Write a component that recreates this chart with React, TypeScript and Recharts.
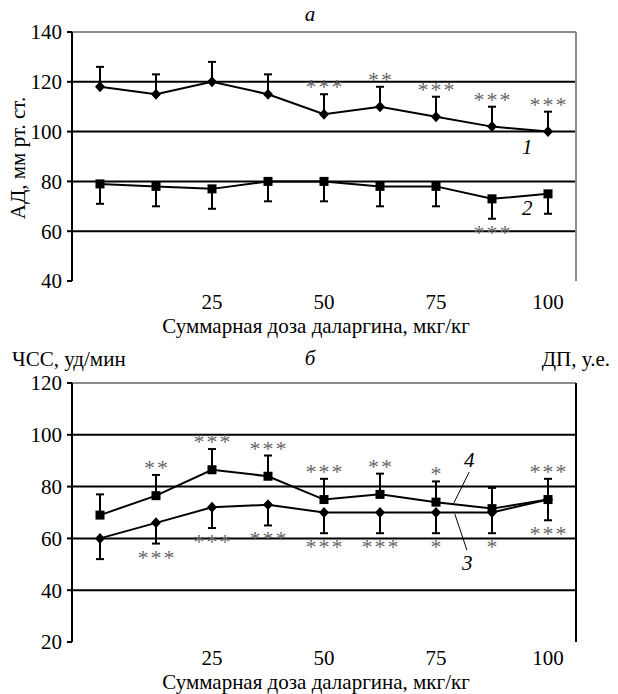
import React from "react";
import { LineChart, Line, XAxis, YAxis, ReferenceLine, ErrorBar } from "recharts";

const FONT = "'Liberation Serif', 'DejaVu Serif', 'Times New Roman', Times, serif";

// doses (mkg/kg), one point per step
const dose = [0, 12.5, 25, 37.5, 50, 62.5, 75, 87.5, 100];
const doseLabels = [25, 50, 75, 100];
const bandEdges = [-6.25, 6.25, 18.75, 31.25, 43.75, 56.25, 68.75, 81.25, 93.75, 106.25];

// а — АД
const sys = [118, 115, 120, 115, 107, 110, 106, 102, 100];
const sysErr = [8, 8, 8, 8, 8, 8, 8, 8, 8];
const sysSig = ["", "", "", "", "***", "**", "***", "***", "***"];
const dia = [79, 78, 77, 80, 80, 78, 78, 73, 75];
const diaErr = [8, 8, 8, 8, 8, 8, 8, 8, 8];
const diaSig = ["", "", "", "", "", "", "", "***", ""];
const adTicks = [40, 60, 80, 100, 120, 140];
const adGrid = [60, 80, 100, 120];

// б — ЧСС и ДП
const hr = [60, 66, 72, 73, 70, 70, 70, 70, 75];
const hrErr = [8, 8, 8, 8, 8, 8, 8, 8, 8];
const hrSig = ["", "***", "***", "***", "***", "***", "*", "*", "***"];
const dp = [69, 76.5, 86.5, 84, 75, 77, 74, 71.5, 75];
const dpErr = [8, 8, 8, 8, 8, 8, 8, 8, 8];
const dpSig = ["", "**", "***", "***", "***", "**", "*", "", "***"];
const hrTicks = [20, 40, 60, 80, 100, 120];
const hrGrid = [40, 60, 80, 100];

const dataA = dose.map((d, i) => ({
  dose: d,
  sys: sys[i],
  sysE: [0, sysErr[i]],
  sysHi: sys[i] + sysErr[i],
  sysSig: sysSig[i],
  dia: dia[i],
  diaE: [diaErr[i], 0],
  diaLo: dia[i] - diaErr[i],
  diaSig: diaSig[i],
}));

const dataB = dose.map((d, i) => ({
  dose: d,
  hr: hr[i],
  hrE: [hrErr[i], 0],
  hrLo: hr[i] - hrErr[i],
  hrSig: hrSig[i],
  dp: dp[i],
  dpE: [0, dpErr[i]],
  dpHi: dp[i] + dpErr[i],
  dpSig: dpSig[i],
}));

const tickStyle = { fill: "#000", fontSize: 21, fontFamily: FONT };

const diamond = (p: any) => {
  const { cx, cy, index } = p;
  if (cx == null || cy == null) return <g key={index} />;
  return (
    <polygon
      key={index}
      points={`${cx},${cy - 5.5} ${cx + 5},${cy} ${cx},${cy + 5.5} ${cx - 5},${cy}`}
      fill="#000"
    />
  );
};

const square = (p: any) => {
  const { cx, cy, index } = p;
  if (cx == null || cy == null) return <g key={index} />;
  return <rect key={index} x={cx - 4.5} y={cy - 4.5} width={9} height={9} fill="#000" />;
};

const stars = (key: string, below: boolean) => (p: any) => {
  const s = p.payload?.[key];
  if (!s || p.cx == null) return <g key={p.index} />;
  return (
    <text
      key={p.index}
      x={p.cx + 1}
      y={below ? p.cy + 21 : p.cy}
      textAnchor="middle"
      fill="#666"
      fontSize={22}
      fontFamily={FONT}
      letterSpacing={2}
    >
      {s}
    </text>
  );
};

const RightTick = (p: any) => (
  <text x={p.x + 34} y={p.y} dy="0.36em" textAnchor="end" {...tickStyle}>
    {p.payload.value}
  </text>
);

const abs = (left: number, top: number, extra: React.CSSProperties = {}): React.CSSProperties => ({
  position: "absolute",
  left,
  top,
  fontSize: 21,
  lineHeight: "20px",
  fontFamily: FONT,
  color: "#000",
  whiteSpace: "nowrap",
  ...extra,
});

function ChartA() {
  return (
    <LineChart width={618} height={336} data={dataA} margin={{ top: 32, right: 42, left: 0, bottom: 25 }}>
      <XAxis
        dataKey="dose"
        type="number"
        domain={[-6.25, 106.25]}
        ticks={bandEdges}
        interval={0}
        height={0}
        tick={false}
        tickSize={5}
        axisLine={{ stroke: "#000", strokeWidth: 2 }}
        tickLine={{ stroke: "#000", strokeWidth: 2 }}
      />
      <XAxis
        xAxisId="lbl"
        dataKey="dose"
        type="number"
        domain={[-6.25, 106.25]}
        ticks={doseLabels}
        interval={0}
        height={30}
        axisLine={false}
        tickLine={false}
        tickMargin={7}
        tick={tickStyle}
      />
      <YAxis
        type="number"
        domain={[40, 140]}
        ticks={adTicks}
        interval={0}
        width={72}
        tickSize={5}
        tickMargin={5}
        tick={tickStyle}
        axisLine={{ stroke: "#000", strokeWidth: 2 }}
        tickLine={{ stroke: "#000", strokeWidth: 2 }}
      />
      {adGrid.map((v) => (
        <ReferenceLine key={v} y={v} stroke="#000" strokeWidth={2} />
      ))}
      <ReferenceLine y={140} stroke="#8c8c8c" strokeWidth={2} />
      <ReferenceLine x={106.25} stroke="#8c8c8c" strokeWidth={2} />
      <Line dataKey="sys" stroke="#000" strokeWidth={2} dot={diamond} activeDot={false} isAnimationActive={false}>
        <ErrorBar dataKey="sysE" width={4} stroke="#000" strokeWidth={2} direction="y" />
      </Line>
      <Line dataKey="dia" stroke="#000" strokeWidth={2} dot={square} activeDot={false} isAnimationActive={false}>
        <ErrorBar dataKey="diaE" width={4} stroke="#000" strokeWidth={2} direction="y" />
      </Line>
      <Line dataKey="sysHi" stroke="none" dot={stars("sysSig", false)} activeDot={false} isAnimationActive={false} />
      <Line dataKey="diaLo" stroke="none" dot={stars("diaSig", true)} activeDot={false} isAnimationActive={false} />
    </LineChart>
  );
}

function ChartB() {
  return (
    <LineChart width={618} height={354} data={dataB} margin={{ top: 43, right: 0, left: 0, bottom: 22 }}>
      <XAxis
        dataKey="dose"
        type="number"
        domain={[-6.25, 106.25]}
        ticks={bandEdges}
        interval={0}
        height={0}
        tick={false}
        tickSize={5}
        axisLine={{ stroke: "#000", strokeWidth: 2 }}
        tickLine={{ stroke: "#000", strokeWidth: 2 }}
      />
      <XAxis
        xAxisId="lbl"
        dataKey="dose"
        type="number"
        domain={[-6.25, 106.25]}
        ticks={doseLabels}
        interval={0}
        height={30}
        axisLine={false}
        tickLine={false}
        tickMargin={2}
        tick={tickStyle}
      />
      <YAxis
        yAxisId="l"
        type="number"
        domain={[20, 120]}
        ticks={hrTicks}
        interval={0}
        width={72}
        tickSize={5}
        tickMargin={5}
        tick={tickStyle}
        axisLine={{ stroke: "#000", strokeWidth: 2 }}
        tickLine={{ stroke: "#000", strokeWidth: 2 }}
      />
      <YAxis
        yAxisId="r"
        orientation="right"
        type="number"
        domain={[20, 120]}
        ticks={hrTicks}
        interval={0}
        width={42}
        tickSize={5}
        tickMargin={2}
        tick={RightTick}
        axisLine={{ stroke: "#000", strokeWidth: 2 }}
        tickLine={{ stroke: "#000", strokeWidth: 2 }}
      />
      {hrGrid.map((v) => (
        <ReferenceLine key={v} yAxisId="l" y={v} stroke="#000" strokeWidth={2} />
      ))}
      <ReferenceLine yAxisId="l" y={120} stroke="#8c8c8c" strokeWidth={2} />
      <ReferenceLine
        yAxisId="l"
        segment={[{ x: 82.4, y: 85.6 }, { x: 79.0, y: 73.7 }]}
        stroke="#000"
        strokeWidth={1}
      />
      <ReferenceLine
        yAxisId="l"
        segment={[{ x: 79.2, y: 69.4 }, { x: 81.9, y: 55.5 }]}
        stroke="#000"
        strokeWidth={1}
      />
      <Line yAxisId="l" dataKey="hr" stroke="#000" strokeWidth={2} dot={diamond} activeDot={false} isAnimationActive={false}>
        <ErrorBar dataKey="hrE" width={4} stroke="#000" strokeWidth={2} direction="y" />
      </Line>
      <Line yAxisId="l" dataKey="dp" stroke="#000" strokeWidth={2} dot={square} activeDot={false} isAnimationActive={false}>
        <ErrorBar dataKey="dpE" width={4} stroke="#000" strokeWidth={2} direction="y" />
      </Line>
      <Line yAxisId="l" dataKey="dpHi" stroke="none" dot={stars("dpSig", false)} activeDot={false} isAnimationActive={false} />
      <Line yAxisId="l" dataKey="hrLo" stroke="none" dot={stars("hrSig", true)} activeDot={false} isAnimationActive={false} />
    </LineChart>
  );
}

export default function App() {
  return (
    <div style={{ position: "absolute", left: 0, top: 0, width: 618, height: 694, background: "#fff", fontFamily: FONT }}>
      <div style={{ position: "absolute", left: 0, top: 0 }}>
        <ChartA />
      </div>
      <div style={{ position: "absolute", left: 0, top: 340 }}>
        <ChartB />
      </div>

      <div style={abs(290, 4, { width: 40, textAlign: "center", fontStyle: "italic" })}>а</div>
      <div style={abs(-82, 148, { width: 200, textAlign: "center", transform: "rotate(-90deg)" })}>
        АД, мм рт. ст.
      </div>
      <div style={abs(522, 137, { fontStyle: "italic" })}>1</div>
      <div style={abs(522, 198, { fontStyle: "italic" })}>2</div>
      <div style={abs(116, 316, { width: 400, textAlign: "center" })}>Суммарная доза даларгина, мкг/кг</div>

      <div style={abs(12, 349)}>ЧСС, уд/мин</div>
      <div style={abs(290, 348, { width: 40, textAlign: "center", fontStyle: "italic" })}>б</div>
      <div style={abs(450, 349, { width: 160, textAlign: "right" })}>ДП, у.е.</div>
      <div style={abs(464, 450, { fontStyle: "italic" })}>4</div>
      <div style={abs(462, 553, { fontStyle: "italic" })}>3</div>
      <div style={abs(116, 672, { width: 400, textAlign: "center" })}>Суммарная доза даларгина, мкг/кг</div>
    </div>
  );
}
